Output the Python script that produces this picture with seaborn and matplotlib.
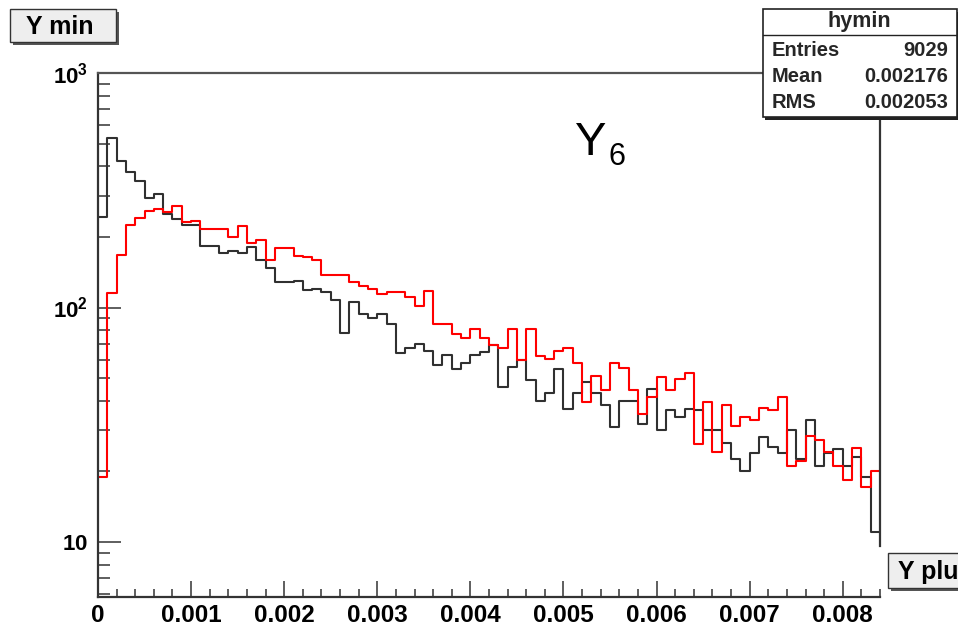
import numpy as np
import pandas as pd
import matplotlib
matplotlib.use("Agg")
import matplotlib.pyplot as plt
import seaborn as sns
from matplotlib.patches import Rectangle
from matplotlib.lines import Line2D
from matplotlib.ticker import FixedLocator, FixedFormatter, NullFormatter

# ---------------- data ----------------
bin_edges = [round(i * 0.0001, 6) for i in range(85)]

ymin_counts = [244, 526, 423, 380, 347, 292, 305, 250, 238, 225,
               225, 183, 183, 171, 175, 171, 182, 159, 148, 129,
               129, 130, 119, 120, 116, 108, 78, 106, 94, 90,
               94, 85, 64, 67, 70, 65, 57, 63, 54.5, 58,
               63, 64.5, 69.5, 46, 56, 60, 49, 40, 43, 54.5,
               37, 43, 48, 43, 38.5, 31, 40, 40, 32, 45,
               30, 36.5, 34, 37, 36.5, 30, 30, 26.5, 22.5, 20,
               24, 28, 25.5, 24, 30, 22.5, 33, 21, 24, 25,
               21, 23, 19, 11]

yplus_counts = [19, 115, 167, 225, 242, 259, 263, 256, 271, 232,
                234, 216, 216, 216, 199, 223, 189, 195, 159, 179,
                179, 166, 165, 159, 137, 137, 137, 129, 124, 120,
                114, 116, 116, 111, 101.5, 118, 85, 85, 77, 74.5,
                81, 74, 69.5, 67, 81, 60, 81, 62, 60.5, 65,
                67, 58, 39.5, 51, 44.5, 58, 55, 44.5, 35, 41.5,
                50.5, 44.5, 49.5, 52.5, 26.3, 39.6, 24.3, 38.4, 31.4, 34,
                33.3, 37.2, 36.5, 41.5, 21.1, 22.2, 28.2, 27.2, 24.3, 21.1,
                18.3, 25.1, 17.1, 20.1]

x_tick_values = [0, 0.001, 0.002, 0.003, 0.004, 0.005, 0.006, 0.007, 0.008]
x_tick_labels = ["0", "0.001", "0.002", "0.003", "0.004", "0.005", "0.006", "0.007", "0.008"]
y_tick_values = [10, 100, 1000]
y_tick_labels = [r"$\mathbf{10}$", r"$\mathbf{10^{2}}$", r"$\mathbf{10^{3}}$"]

stat_title = "hymin"
stat_names = ["Entries", "Mean", "RMS"]
stat_values = ["9029", "0.002176", "0.002053"]

# ---------------- style ----------------
sns.set_theme(style="white")
plt.rcParams['font.family'] = ['Liberation Sans', 'DejaVu Sans']
plt.rcParams['mathtext.fontset'] = 'custom'
plt.rcParams['mathtext.rm'] = 'Liberation Sans'
plt.rcParams['mathtext.bf'] = 'Liberation Sans:bold'
plt.rcParams['mathtext.it'] = 'Liberation Sans:italic'

W, H = 958, 632
fig = plt.figure(figsize=(W / 100, H / 100), dpi=100)
fig.patch.set_facecolor("white")

def fx(px):
    return px / W

def fy(py):
    return 1 - py / H

ax = fig.add_axes([fx(98), fy(597), fx(880) - fx(98), fy(73) - fy(597)])

edges = np.array(bin_edges)
centers = (edges[:-1] + edges[1:]) / 2
df = pd.DataFrame({"x": centers, "ymin": ymin_counts, "yplus": yplus_counts})

sns.histplot(data=df, x="x", weights="ymin", bins=list(bin_edges), element="step",
             fill=False, color="#303030", linewidth=1.5, ax=ax)
sns.histplot(data=df, x="x", weights="yplus", bins=list(bin_edges), element="step",
             fill=False, color="#ff0000", linewidth=1.5, ax=ax)

ax.set_yscale("log")
ax.set_xlim(0, 0.0084)
ax.set_ylim(5.83, 1000)
ax.set_xlabel("")
ax.set_ylabel("")
ax.grid(False)
ax.set_facecolor("white")

# ticks
ax.xaxis.set_major_locator(FixedLocator(x_tick_values))
ax.xaxis.set_major_formatter(FixedFormatter(x_tick_labels))
ax.xaxis.set_minor_locator(FixedLocator(np.round(np.arange(0, 0.00841, 0.0002), 6)))
ax.xaxis.set_minor_formatter(NullFormatter())

minor_y = [6, 7, 8, 9] + [k * 10 for k in range(2, 10)] + [k * 100 for k in range(2, 10)]
ax.yaxis.set_major_locator(FixedLocator(y_tick_values))
ax.yaxis.set_major_formatter(FixedFormatter(y_tick_labels))
ax.yaxis.set_minor_locator(FixedLocator(minor_y))
ax.yaxis.set_minor_formatter(NullFormatter())

ax.tick_params(axis="y", which="major", direction="in", length=16.5, width=1.1,
               color="#333333", labelsize=16, pad=7, left=True, right=False)
ax.tick_params(axis="y", which="minor", direction="in", length=8.5, width=1.1,
               color="#333333", left=True, right=False)
ax.tick_params(axis="x", which="major", direction="in", length=11.5, width=1.1,
               color="#333333", labelsize=17.5, pad=5, bottom=True, top=False)
ax.tick_params(axis="x", which="minor", direction="in", length=5.8, width=1.1,
               color="#333333", bottom=True, top=False)
for lab in ax.get_xticklabels():
    lab.set_fontweight("bold")
    lab.set_color("black")
for lab in ax.get_yticklabels():
    lab.set_color("black")

for side in ["left", "bottom", "top", "right"]:
    ax.spines[side].set_color("#333333")
    ax.spines[side].set_linewidth(1.6)
    ax.spines[side].set_visible(True)
ax.spines["top"].set_color("#555555")
ax.spines["right"].set_bounds(9.6, 1000)

# ---------------- Y_6 label ----------------
fig.text(fx(575), fy(155), "Y", fontsize=34, color="black", ha="left", va="baseline")
fig.text(fx(608), fy(165), "6", fontsize=22, color="black", ha="left", va="baseline")

# ---------------- buttons ----------------
def button(x0, y0, x1, y1, label, tx):
    shadow = Rectangle((fx(x0 + 3), fy(y1 + 3)), fx(x1) - fx(x0), fy(y0) - fy(y1),
                       transform=fig.transFigure, facecolor="#555555",
                       edgecolor="none", zorder=9)
    box = Rectangle((fx(x0), fy(y1)), fx(x1) - fx(x0), fy(y0) - fy(y1),
                    transform=fig.transFigure, facecolor="#eeeeee",
                    edgecolor="#333333", linewidth=1.0, zorder=10)
    fig.add_artist(shadow)
    fig.add_artist(box)
    fig.text(fx(tx), fy((y0 + y1) / 2 + 1), label, fontsize=18, fontweight="bold",
             ha="left", va="center", color="black", zorder=11)

button(10, 9, 116, 42, "Y min", 26)
button(888, 553, 990, 588, "Y plu", 898)

# ---------------- stats box ----------------
sb_x0, sb_y0, sb_x1, sb_y1 = 763, 9, 957, 117
shadow = Rectangle((fx(sb_x0 + 2), fy(sb_y1 + 3)), fx(sb_x1) - fx(sb_x0), fy(sb_y0) - fy(sb_y1),
                   transform=fig.transFigure, facecolor="#222222", edgecolor="none", zorder=9)
box = Rectangle((fx(sb_x0), fy(sb_y1)), fx(sb_x1) - fx(sb_x0), fy(sb_y0) - fy(sb_y1),
                transform=fig.transFigure, facecolor="white", edgecolor="#222222",
                linewidth=1.2, zorder=10)
fig.add_artist(shadow)
fig.add_artist(box)
fig.add_artist(Line2D([fx(sb_x0), fx(sb_x1)], [fy(35), fy(35)], transform=fig.transFigure,
                      color="#222222", linewidth=1.0, zorder=11))
fig.text(fx(859), fy(22), stat_title, fontsize=15.5, fontweight="bold",
         ha="center", va="center", zorder=12)
row_y = [50, 76, 102]
for name, val, ry in zip(stat_names, stat_values, row_y):
    fig.text(fx(772), fy(ry), name, fontsize=14.5, fontweight="bold",
             ha="left", va="center", zorder=12)
    fig.text(fx(948), fy(ry), val, fontsize=14.5, fontweight="bold",
             ha="right", va="center", zorder=12)

fig.savefig("out.png", dpi=100)
